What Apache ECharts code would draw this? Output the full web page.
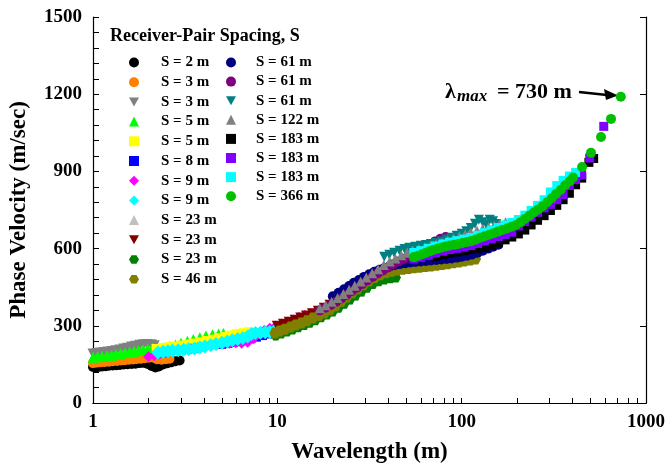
<!DOCTYPE html>
<html><head><meta charset="utf-8">
<script src="https://cdn.jsdelivr.net/npm/echarts@6/dist/echarts.min.js"></script>
<style>html,body{margin:0;padding:0;background:#fff}#c{width:668px;height:476px}</style>
</head><body><div id="c"></div>
<script>
// ---- data (wavelength m, phase velocity m/s) ----
const labels = ['S = 2 m','S = 3 m','S = 3 m','S = 5 m','S = 5 m','S = 8 m','S = 9 m','S = 9 m','S = 23 m','S = 23 m','S = 23 m','S = 46 m',
                'S = 61 m','S = 61 m','S = 61 m','S = 122 m','S = 183 m','S = 183 m','S = 183 m','S = 366 m'];
const xTickValues = [1,2,3,4,5,6,7,8,9,10,20,30,40,50,60,70,80,90,100,200,300,400,500,600,700,800,900,1000];
const yTicks = [0,300,600,900,1200,1500];

const s2 = [[1.00,140],[1.04,138],[1.08,141],[1.12,142],[1.17,143],[1.22,145],[1.28,146],[1.34,147],[1.40,148],[1.47,150],[1.54,151],[1.62,152],[1.70,153],[1.79,155],[1.88,156],[1.98,152],[2.08,144],[2.18,138],[2.28,142],[2.40,150],[2.52,154],[2.65,158],[2.80,162],[2.95,165]];
const s3a = [[1.00,155],[1.05,157],[1.10,158],[1.16,159],[1.22,160],[1.28,162],[1.35,163],[1.42,165],[1.49,166],[1.57,168],[1.65,169],[1.73,171],[1.82,172],[1.91,174],[2.01,176],[2.11,177],[2.22,170],[2.35,168],[2.48,170],[2.60,172]];
const s3b = [[1.00,190],[1.05,192],[1.10,194],[1.15,196],[1.21,198],[1.27,200],[1.33,203],[1.40,206],[1.47,210],[1.54,213],[1.62,218],[1.70,221],[1.79,224],[1.88,226],[1.97,227],[2.07,226],[2.15,222]];
const s5a = [[1.00,178],[1.06,180],[1.12,182],[1.19,184],[1.26,186],[1.33,189],[1.41,192],[1.49,195],[1.58,198],[1.67,201],[1.77,204],[1.87,207],[1.98,210],[2.10,214],[2.22,212],[2.40,215],[2.60,220],[2.80,225],[3.00,232],[3.25,240],[3.50,247],[3.80,254],[4.10,260],[4.45,265],[4.80,268],[5.10,270]];
const s5b = [[2.2,212],[2.4,216],[2.6,219],[2.8,222],[3.0,225],[3.25,229],[3.5,233],[3.8,238],[4.1,243],[4.45,248],[4.8,254],[5.2,259],[5.6,264],[6.0,269],[6.5,273],[7.0,277]];
const s8 = [[5,228],[5.4,232],[5.8,236],[6.2,240],[6.7,244],[7.2,250],[7.7,256],[8.3,262],[8.9,268],[9.6,276],[10.3,284],[11.1,293],[12,303],[12.9,313],[13.9,322],[15,331],[16.2,340],[17.5,348],[19,355]];
const s9a = [[2.0,180],[2.15,185],[2.3,190],[2.5,195],[2.7,199],[2.9,203],[3.15,207],[3.4,211],[3.7,215],[4.0,219],[4.35,223],[4.7,226],[5.1,229],[5.5,232],[5.95,234],[6.4,232],[6.9,236],[7.4,250],[7.9,270],[8.5,282],[9.1,290],[9.8,298],[10.5,306],[11.3,315],[12.2,323],[13.1,332],[14.1,340],[15.2,348],[16.4,356],[17.6,364]];
const s9b = [[2.25,196],[2.4,199],[2.55,201],[2.7,203],[2.9,205],[3.1,207],[3.3,209],[3.55,212],[3.8,216],[4.05,220],[4.35,224],[4.65,229],[5.0,234],[5.35,239],[5.7,244],[6.1,249],[6.5,253],[6.9,258],[7.25,268],[7.6,272],[8.1,273],[8.6,275],[9.1,276],[9.6,278]];
const s23a = [[10,288],[11,296],[12,305],[13,314],[14.2,322],[15.5,332],[17,344],[18.5,357],[20,370],[22,388],[24,405],[26,420],[28,434]];
const s23b = [[10,298],[10.8,306],[11.6,314],[12.5,322],[13.4,330],[14.4,338],[15.5,347],[16.7,357],[18,368],[19.3,380],[20.8,394],[22.4,410]];
const s23c = [[9.8,262],[10.5,270],[11.3,278],[12.1,286],[13,294],[14,303],[15,312],[16.1,322],[17.3,333],[18.6,344],[20,356],[21.5,370],[23.1,386],[24.8,402],[26.6,418],[28.6,433],[30.7,448],[33,462],[35.5,473],[38.1,480],[41,485],[44,488]];
const s46 = [[9.7,272],[10.3,280],[11,287],[11.8,295],[12.6,303],[13.5,311],[14.5,320],[15.6,330],[16.8,340],[18,350],[19.3,362],[20.7,378],[22.2,395],[23.8,412],[25.5,428],[27.3,444],[29.3,460],[31.4,474],[33.7,488],[36.1,498],[38.7,506],[41.5,512],[44.5,517],[47.7,520],[51.2,523],[54.9,526],[58.9,528],[63.2,530],[67.8,532],[72.7,535],[78,538],[83.7,541],[89.8,545],[96.3,548],[103,552],[111,556],[119,560]];
const s61a = [[20,415],[21.5,428],[23,442],[24.5,455],[26,467],[27.7,478],[29.5,490],[31.5,500],[33.6,510],[35.8,518],[38.2,525],[40.7,531],[43.4,536],[46.3,540],[49.4,543],[52.7,546],[56.2,548],[60,550],[64,552],[68.2,554],[72.8,556],[77.6,558],[82.8,560],[88.3,562],[94.2,565],[100,568],[107,572],[114,577],[122,584],[130,592],[139,600],[148,607],[158,615]];
const s61b = [[17,360],[18.2,370],[19.5,381],[20.8,393],[22.2,406],[23.7,420],[25.3,434],[27,448],[28.8,462],[30.7,476],[32.8,490],[35,503],[37.4,515],[39.9,527],[42.6,539],[45.5,550],[48.6,561],[51.9,572],[55.4,583],[59.1,594],[63.1,604],[67.3,614],[71.8,628],[76.7,638],[81.9,645]];
const s61c = [[38,568],[40.5,576],[43,584],[46,592],[49,598],[52,603],[56,607],[60,611],[64,614],[68,618],[73,622],[78,628],[83,635],[88,642],[94,650],[100,658],[106,667],[112,680],[118,697],[124,712],[130,702],[136,694],[142,712],[148,706],[154,696]];
const s122 = [[17,368],[18.3,380],[19.7,393],[21.2,408],[22.8,424],[24.5,440],[26.3,456],[28.3,472],[30.4,488],[32.7,504],[35.2,520],[37.8,536],[40.7,550],[43.7,562],[47,574],[50.6,584],[54.4,592],[58.5,599],[62.9,605],[67.6,611],[72.7,617],[78.2,624],[84.1,632],[90.4,640],[97.2,648],[104.5,656],[112,663],[121,670],[130,677],[140,684],[150,690],[161,696],[173,702]];
const s183a = [[72,570],[79,576],[86,582],[94,587],[103,592],[112,597],[122,601],[133,605],[145,612],[158,622],[172,634],[187,645],[203,657],[220,672],[238,692],[258,710],[280,728],[303,748],[328,768],[355,790],[384,815],[415,848],[448,874],[490,935],[520,950]];
const s183b = [[55,560],[60,566],[66,574],[72,583],[79,590],[86,596],[94,601],[103,606],[112,612],[122,620],[133,630],[145,638],[158,647],[172,655],[187,664],[203,688],[220,705],[238,722],[258,741],[280,758],[303,772],[328,790],[355,810],[384,845],[415,868],[448,886],[495,952],[590,1075]];
const s183c = [[55,585],[60,592],[66,601],[72,610],[79,618],[86,625],[94,631],[103,637],[112,643],[122,652],[133,662],[145,672],[158,682],[172,692],[187,702],[203,713],[220,730],[238,748],[258,768],[280,790],[303,820],[328,845],[355,865],[384,882],[415,896]];
const s366 = [[55,567],[58,572],[61,578],[64,584],[67,590],[70,595],[74,600],[78,604],[82,608],[86,612],[91,615],[96,618],[101,622],[107,626],[113,630],[119,635],[126,642],[133,648],[141,654],[149,660],[157,666],[166,672],[176,678],[186,685],[197,692],[208,702],[220,715],[233,728],[246,740],[260,752],[275,765],[291,780],[308,796],[325,812],[344,828],[364,846],[385,862],[402,876],[450,917],[503,972],[570,1034],[646,1104],[730,1190]];

const seriesData = [s2,s3a,s3b,s5a,s5b,s8,s9a,s9b,s23a,s23b,s23c,s46,s61a,s61b,s61c,s122,s183a,s183b,s183c,s366];
const colors = ['#000000','#FF8000','#808080','#00FF00','#FFFF00','#0000FF','#FF00FF','#00FFFF','#C0C0C0','#800000','#008000','#808000',
                '#000080','#800080','#008080','#808080','#000000','#8000FF','#00FFFF','#00C000'];
const HEX = 'path://M2.9,0 L8.7,0 L11.6,5 L8.7,10 L2.9,10 L0,5 Z';
const DOWN = 'path://M0,0 L10,0 L5,9 Z';
const symbols = ['circle','circle',DOWN,'triangle','rect','rect','diamond','diamond','triangle',DOWN,HEX,HEX,
                 'circle','circle',DOWN,'triangle','rect','rect','rect','circle'];
const sizes = [10,10,11,11,9,9,11,14,11,11,10,11,10,10,10,10,9,9,9,10];

const FONT = 'Liberation Serif';
const names = labels.map((l,i)=> l + '|' + i);

const series = seriesData.map((d,i)=>({
  type:'scatter', name:names[i], data:d,
  symbol:symbols[i], symbolSize:sizes[i],
  itemStyle:{color:colors[i], opacity:1}, emphasis:{disabled:true}, animation:false
}));

function legendCfg(left, gap, pad, data){
  return {
    orient:'vertical', left:left, top:55, data:data,
    itemWidth:10, itemHeight:10, itemGap:gap, padding:0, selectedMode:false,
    textStyle:{fontFamily:FONT, fontWeight:'bold', fontSize:15, color:'#000', padding:[0,0,0,pad]},
    formatter: n => n.split('|')[0]
  };
}

const axisLineStyle = {show:true, lineStyle:{color:'#000', width:1.2}};
const chart = echarts.init(document.getElementById('c'), null, {renderer:'canvas'});
chart.setOption({
  animation:false,
  backgroundColor:'#fff',
  title:{text:'Receiver-Pair Spacing, S', left:110, top:27, padding:0,
    textStyle:{fontFamily:FONT, fontWeight:'bold', fontSize:18, color:'#000'}},
  legend:[
    legendCfg(129, 4.7, 17, names.slice(0,12)),
    legendCfg(226, 4.1, 15, names.slice(12))
  ],
  grid:{left:93, right:21, top:17, bottom:73},
  xAxis:[
    {type:'log', logBase:10, min:1, max:1000, position:'bottom',
     name:'Wavelength (m)', nameLocation:'middle', nameGap:38,
     nameTextStyle:{fontFamily:FONT, fontWeight:'bold', fontSize:23, color:'#000'},
     axisLine:axisLineStyle,
     axisTick:{show:true, inside:true, length:5, customValues:xTickValues, lineStyle:{color:'#000'}},
     axisLabel:{fontFamily:FONT, fontWeight:'bold', fontSize:19, color:'#000', margin:10, formatter:v=>String(v)},
     splitLine:{show:false}},
    {type:'log', logBase:10, min:1, max:1000, position:'top',
     axisLine:axisLineStyle, axisTick:{show:false}, axisLabel:{show:false}, splitLine:{show:false}}
  ],
  yAxis:[
    {type:'value', min:0, max:1500, interval:300, position:'left',
     name:'Phase Velocity (m/sec)', nameLocation:'middle', nameGap:62,
     nameTextStyle:{fontFamily:FONT, fontWeight:'bold', fontSize:23, color:'#000'},
     axisLine:axisLineStyle,
     axisTick:{show:true, inside:true, length:6, lineStyle:{color:'#000'}},
     minorTick:{show:true, splitNumber:5, length:6, lineStyle:{color:'#000'}},
     axisLabel:{fontFamily:FONT, fontWeight:'bold', fontSize:19, color:'#000', margin:11, formatter:v=>String(v)},
     splitLine:{show:false}},
    {type:'value', min:0, max:1500, interval:300, position:'right',
     axisLine:axisLineStyle,
     axisTick:{show:true, inside:true, length:6, lineStyle:{color:'#000'}},
     axisLabel:{show:false}, splitLine:{show:false}}
  ],
  series:series,
  graphic:[
    {type:'text', x:445, y:92, style:{text:'λ', fontFamily:FONT, fontWeight:'bold', fontSize:22, fill:'#000', verticalAlign:'middle', align:'left'}},
    {type:'text', x:457, y:97, style:{text:'max', fontFamily:FONT, fontWeight:'bold', fontStyle:'italic', fontSize:17, fill:'#000', verticalAlign:'middle', align:'left'}},
    {type:'text', x:497, y:92, style:{text:'= 730 m', fontFamily:FONT, fontWeight:'bold', fontSize:22, fill:'#000', verticalAlign:'middle', align:'left'}},
    {type:'line', shape:{x1:579, y1:92, x2:607, y2:95}, style:{stroke:'#000', lineWidth:2.5}},
    {type:'polygon', shape:{points:[[604,89],[606,100],[618,95.5]]}, style:{fill:'#000'}}
  ]
});
</script></body></html>
